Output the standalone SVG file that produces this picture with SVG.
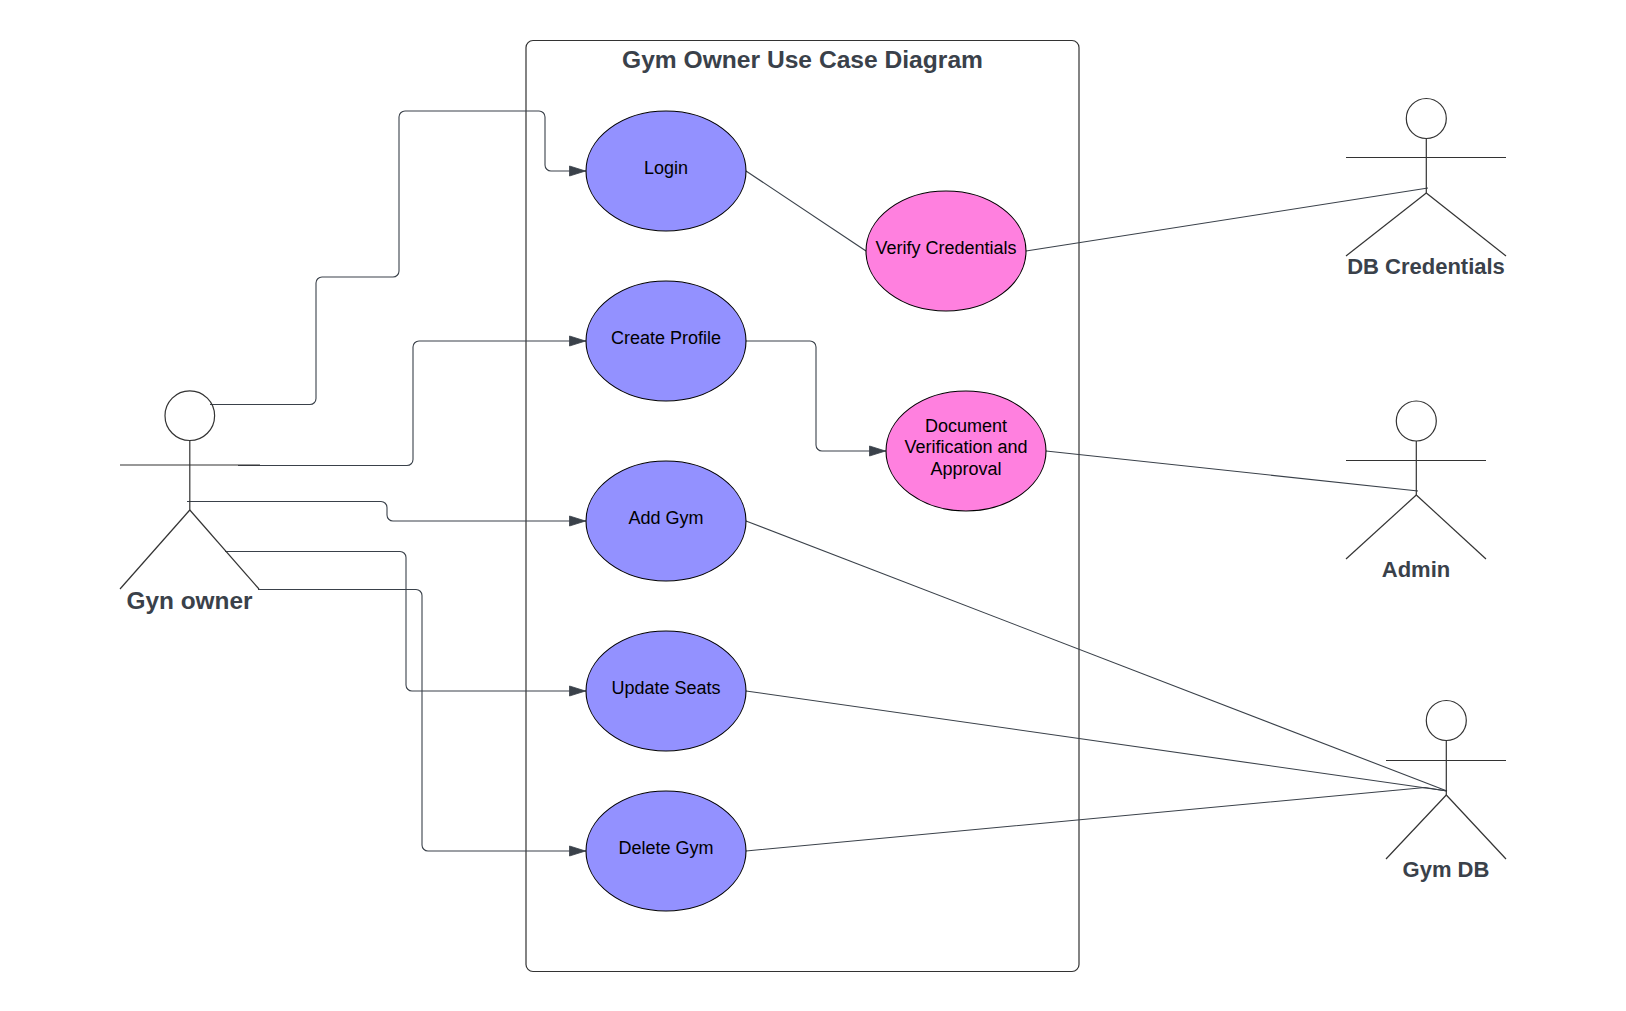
<svg xmlns="http://www.w3.org/2000/svg" width="1626" height="1011" viewBox="0 0 1626 1011">
<style>
text{font-family:"Liberation Sans",Arial,sans-serif;text-anchor:middle}
.uc{font-size:18px;fill:#000}
.lb{font-size:22px;font-weight:bold;fill:#3a414a}
.e{stroke:#000;stroke-width:1.1}
.blue{fill:#9391ff}.pink{fill:#ff80df}
.a line,.a circle{fill:#fff;stroke:#333;stroke-width:1.2}
.a circle{fill:none}
.c path{fill:none;stroke:#3a414a;stroke-width:1.1}
</style>
<defs><marker id="ah" markerUnits="userSpaceOnUse" markerWidth="18" markerHeight="14" refX="17" refY="7" orient="auto"><path d="M0.500 2 L16.500 7 L0.500 12Z" fill="#3a414a" stroke="#3a414a" stroke-width="0.8"/></marker></defs>
<rect id="frame" x="526" y="40.500" width="553" height="931" rx="7" fill="#fff" stroke="#333" stroke-width="1.2"/>
<text class="lb" style="font-size:24.600px" x="802.500" y="68">Gym Owner Use Case Diagram</text>
<g id="connectors" class="c">
<path marker-end="url(#ah)" d="M210 404.500H310a6 6 0 0 0 6-6V283a6 6 0 0 1 6-6H393a6 6 0 0 0 6-6V117a6 6 0 0 1 6-6H539a6 6 0 0 1 6 6V165a6 6 0 0 0 6 6H586"/>
<path marker-end="url(#ah)" d="M238 465.500H407a6 6 0 0 0 6-6V347a6 6 0 0 1 6-6H586"/>
<path marker-end="url(#ah)" d="M187 501.500H381a6 6 0 0 1 6 6V515a6 6 0 0 0 6 6H586"/>
<path marker-end="url(#ah)" d="M225 551.500H400a6 6 0 0 1 6 6V685a6 6 0 0 0 6 6H586"/>
<path marker-end="url(#ah)" d="M258 589.500H416a6 6 0 0 1 6 6V845a6 6 0 0 0 6 6H586"/>
<path marker-end="url(#ah)" d="M746 341H810a6 6 0 0 1 6 6V445a6 6 0 0 0 6 6H886"/>
<path d="M746 171L866 251"/>
<path d="M1026 251L1428 188"/>
<path d="M1046 451L1418 491"/>
<path d="M746 521L1447 791"/>
<path d="M746 691L1447 791"/>
<path d="M746 851L1425 787.500L1447 791"/>
</g>
<g id="login"><ellipse class="e blue" cx="666" cy="171" rx="80" ry="60"/><text class="uc" x="666" y="174">Login</text></g>
<g id="create-profile"><ellipse class="e blue" cx="666" cy="341" rx="80" ry="60"/><text class="uc" x="666" y="344">Create Profile</text></g>
<g id="add-gym"><ellipse class="e blue" cx="666" cy="521" rx="80" ry="60"/><text class="uc" x="666" y="524">Add Gym</text></g>
<g id="update-seats"><ellipse class="e blue" cx="666" cy="691" rx="80" ry="60"/><text class="uc" x="666" y="694">Update Seats</text></g>
<g id="delete-gym"><ellipse class="e blue" cx="666" cy="851" rx="80" ry="60"/><text class="uc" x="666" y="854">Delete Gym</text></g>
<g id="verify"><ellipse class="e pink" cx="946" cy="251" rx="80" ry="60"/><text class="uc" x="946" y="254">Verify Credentials</text></g>
<g id="document"><ellipse class="e pink" cx="966" cy="451" rx="80" ry="60"/><text class="uc" x="966" y="431.500">Document</text><text class="uc" x="966" y="453">Verification and</text><text class="uc" x="966" y="475">Approval</text></g>
<g id="gyn-owner" class="a"><circle cx="189.800" cy="415.700" r="24.800"/><line x1="189.800" y1="440.500" x2="189.800" y2="510"/><line x1="120" y1="465" x2="260" y2="465"/><line x1="189.800" y1="510" x2="120" y2="589"/><line x1="189.800" y1="510" x2="259" y2="589"/><text class="lb" style="font-size:24.400px" x="189.500" y="609">Gyn owner</text></g>
<g id="db-credentials" class="a"><circle cx="1426.300" cy="118.500" r="20"/><line x1="1426.300" y1="138.500" x2="1426.300" y2="193"/><line x1="1346" y1="157.500" x2="1506" y2="157.500"/><line x1="1426.300" y1="193" x2="1346" y2="256"/><line x1="1426.300" y1="193" x2="1506" y2="256"/><text class="lb" x="1426" y="274">DB Credentials</text></g>
<g id="admin" class="a"><circle cx="1416.300" cy="421" r="20"/><line x1="1416.300" y1="441" x2="1416.300" y2="495"/><line x1="1346" y1="460.500" x2="1486" y2="460.500"/><line x1="1416.300" y1="495" x2="1346" y2="559"/><line x1="1416.300" y1="495" x2="1486" y2="559"/><text class="lb" x="1416" y="577">Admin</text></g>
<g id="gym-db" class="a"><circle cx="1446.300" cy="720.500" r="20"/><line x1="1446.300" y1="740.500" x2="1446.300" y2="795"/><line x1="1386" y1="760.500" x2="1506" y2="760.500"/><line x1="1446.300" y1="795" x2="1386" y2="859"/><line x1="1446.300" y1="795" x2="1506" y2="859"/><text class="lb" x="1446" y="876.500">Gym DB</text></g>
</svg>
